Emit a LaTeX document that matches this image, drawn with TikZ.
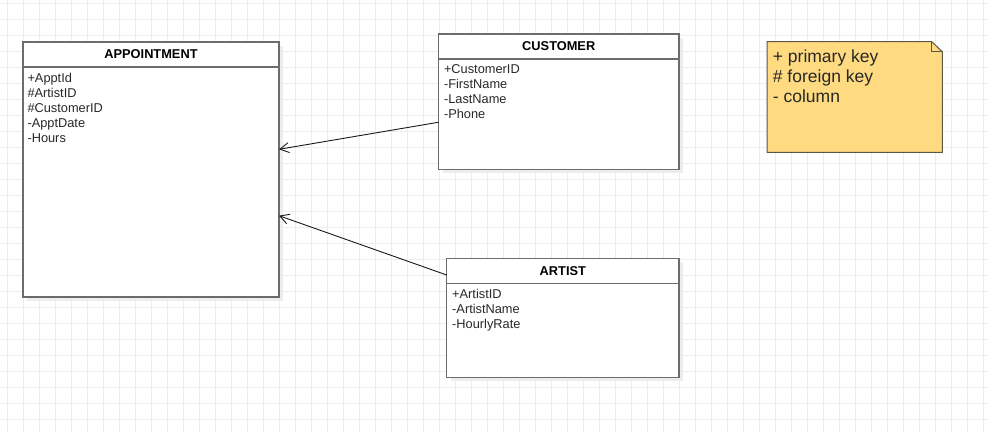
\documentclass[tikz,border=0pt]{standalone}
\usepackage{fontspec}
\setmainfont{Liberation Sans}
\usetikzlibrary{shapes, arrows.meta, positioning, shadows}
\definecolor{gridline}{RGB}{236,236,236}
\definecolor{boxline}{RGB}{108,108,108}
\definecolor{notefill}{RGB}{255,218,128}
\definecolor{noteline}{RGB}{92,86,70}
\definecolor{textcol}{RGB}{40,40,40}

\begin{document}
\begin{tikzpicture}[x=1pt, y=-1pt]
  \tikzstyle{table} = [rectangle, draw=boxline, line width=1.2pt, fill=white, inner sep=0pt, outer sep=0pt, anchor=north west, drop shadow={shadow xshift=4pt, shadow yshift=-4pt, fill=black!7, opacity=1}]
  \tikzstyle{title} = [rectangle, inner sep=0pt, anchor=north, minimum height=24.6pt, font=\fontsize{12.8}{15}\selectfont\bfseries]
  \tikzstyle{attrs} = [inner sep=0pt, anchor=north west, align=left, text=textcol, font=\fontsize{12.8}{15}\selectfont]
  \tikzstyle{headline} = [draw=boxline, line width=1.2pt]
  \tikzstyle{notebox} = [fill=notefill, draw=noteline, line width=1pt]
  \tikzstyle{notetext} = [inner sep=0pt, align=left, text=textcol, font=\fontsize{17.5}{20}\selectfont]
  \tikzstyle{connector} = [draw=black!90, line width=0.9pt, -{Straight Barb[length=9pt, width=10pt]}]
  \useasboundingbox (0,0) rectangle (988,432);
  \fill[white] (0,0) rectangle (988,432);
  % grid
  \foreach \gx in {7.3,23.3,...,988} \draw[gridline] (\gx,0) -- (\gx,432);
  \foreach \gy in {3.3,19.3,...,432} \draw[gridline] (0,\gy) -- (988,\gy);
  % tables
  \node [table, minimum width=256pt, minimum height=255pt] (appt) at (23,42) {};
  \node [title, minimum width=256pt] (apptTitle) at (appt.north) {APPOINTMENT};
  \path [headline] (apptTitle.south west) -- (apptTitle.south east);
  \node [attrs, below right=5.6pt and 4.5pt of apptTitle.south west] (apptAttrs) {+ApptId\\\#ArtistID\\\#CustomerID\\-ApptDate\\-Hours};

  \node [table, minimum width=240.5pt, minimum height=135.3pt] (customer) at (438.5,34) {};
  \node [title, minimum width=240.5pt] (customerTitle) at (customer.north) {CUSTOMER};
  \path [headline] (customerTitle.south west) -- (customerTitle.south east);
  \node [attrs, below right=5.6pt and 5.5pt of customerTitle.south west] (customerAttrs) {+CustomerID\\-FirstName\\-LastName\\-Phone};

  \node [table, minimum width=232.3pt, minimum height=119pt] (artist) at (446.7,258.3) {};
  \node [title, minimum width=232.3pt] (artistTitle) at (artist.north) {ARTIST};
  \path [headline] (artistTitle.south west) -- (artistTitle.south east);
  \node [attrs, below right=5.6pt and 5.5pt of artistTitle.south west] (artistAttrs) {+ArtistID\\-ArtistName\\-HourlyRate};
  % legend note
  \path [notebox] (767,41.7) coordinate (noteNW) -- (931.7,41.7) coordinate (noteFold) -- (942.3,51.7) coordinate (noteCorner) -- (942.3,152.3) -- (767,152.3) -- cycle;
  \draw [noteline, line width=1pt] (noteFold) |- (noteCorner);
  \node [notetext, anchor=north west, below right=7.8pt and 5.7pt of noteNW] (noteText) {+ primary key\\\# foreign key\\- column};
  % relations
  \path [connector] ([yshift=-20.6pt]customer.west) -- ([yshift=20.2pt]appt.east);
  \path [connector] ([yshift=42.8pt]artist.west) -- ([yshift=-46.2pt]appt.east);
\end{tikzpicture}
\end{document}
